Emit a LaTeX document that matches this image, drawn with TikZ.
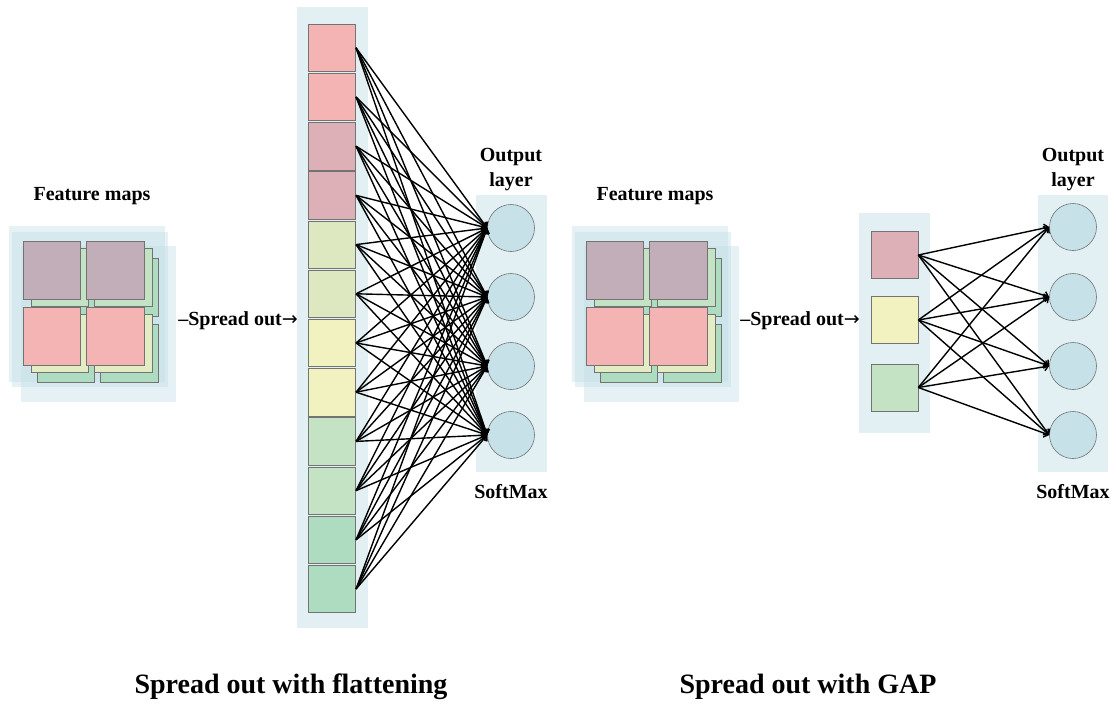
\documentclass[tikz,border=0pt]{standalone}
\usepackage{fontspec}
\setmainfont{Liberation Serif}
\newfontfamily\arrowfont{DejaVu Sans}
\usetikzlibrary{arrows.meta}
\definecolor{colbg}{HTML}{E3F0F3}
\definecolor{fmbg}{HTML}{BFDDE6}
\definecolor{cpink}{HTML}{F4B4B4}
\definecolor{cmauve}{HTML}{DDB0B8}
\definecolor{cgray}{HTML}{C1AEB8}
\definecolor{clime}{HTML}{DDE8C0}
\definecolor{cyel}{HTML}{F2F2C0}
\definecolor{clgreen}{HTML}{C4E2C4}
\definecolor{cgreen}{HTML}{ADDCC0}
\definecolor{cymid}{HTML}{E3ECC2}
\definecolor{ccirc}{HTML}{C6E2E8}
\tikzset{
  sq/.style={draw=black!55, line width=0.6pt, inner sep=0pt, minimum width=#1, minimum height=#1},
  sq/.default=48pt,
  neuron/.style={circle, draw=black!55, line width=0.6pt, fill=ccirc, minimum size=47pt, inner sep=0pt},
  edge/.style={line width=1.4pt, -{Straight Barb[length=4pt,width=8pt]}},
  lbl/.style={font=\bfseries\fontsize{20}{25}\selectfont, align=center, inner sep=0pt},
  title/.style={font=\bfseries\fontsize{28}{32}\selectfont, inner sep=0pt},
  fmback/.style={fill=fmbg, fill opacity=0.4, draw=none}
}
\begin{document}
\begin{tikzpicture}[x=1pt, y=-1pt]
\useasboundingbox (0,0) rectangle (1116,704);
% ---------- feature map blocks ----------
\foreach \s/\n in {0/L, 563/R}{
  \begin{scope}[xshift=\s pt]
  \fill[fmback] (9,226) rectangle (165,382);
  \fill[fmback] (12,232) rectangle (168,387);
  \fill[fmback] (21,246) rectangle (176,402);
  % layer 3
  \foreach \x/\y/\k in {52/270.5/a, 115.5/270.5/b, 52/336.5/c, 115.5/336.5/d}
    \node[sq=57.5pt, fill=cgreen] (fm\n3\k) at (\x+14,\y+17) {};
  % layer 2
  \foreach \x/\y/\k/\c in {52/270.5/a/clgreen, 115.5/270.5/b/clgreen, 52/336.5/c/cymid, 115.5/336.5/d/cymid}
    \node[sq=57.5pt, fill=\c] (fm\n2\k) at (\x+8,\y+7) {};
  % front
  \foreach \x/\y/\k/\c in {52/270.5/a/cgray, 115.5/270.5/b/cgray, 52/336.5/c/cpink, 115.5/336.5/d/cpink}
    \node[sq=57.5pt, fill=\c] (fm\n1\k) at (\x,\y) {};
  \end{scope}
}
\node[lbl] (fmtL) at (92,196) {Feature maps};
\node[lbl] (fmtR) at (655,196) {Feature maps};
\node[lbl] (spL) at (238,321) {–Spread out{\arrowfont\fontsize{19}{22}\selectfont\mdseries →}};
\node[lbl] (spR) at (800,321) {–Spread out{\arrowfont\fontsize{19}{22}\selectfont\mdseries →}};
% ---------- flatten column ----------
\fill[colbg] (297,7) rectangle (368,628);
\foreach \i/\c in {1/cpink,2/cpink,3/cmauve,4/cmauve,5/clime,6/clime,7/cyel,8/cyel,9/clgreen,10/clgreen,11/cgreen,12/cgreen}
  \node[sq=47.5pt, fill=\c] (c\i) at (332,{47.8+(\i-1)*49.2}) {};
% ---------- output layer 1 ----------
\fill[colbg] (476,195) rectangle (547,472);
\foreach \j/\y in {1/228,2/297,3/366,4/435}
  \node[neuron] (o\j) at (511,\y) {};
\node[lbl] (outL) at (511,170) {Output\\layer};
\node[lbl] (smL) at (511,492) {SoftMax};
\foreach \i in {1,...,12}
  \foreach \j in {1,...,4}
    \draw[edge] (c\i.east) -- (o\j.west);
% ---------- GAP column ----------
\fill[colbg] (859,213) rectangle (930,433);
\foreach \i/\c/\y in {1/cmauve/255, 2/cyel/320, 3/clgreen/387.5}
  \node[sq=47pt, fill=\c] (g\i) at (894.5,\y) {};
% ---------- output layer 2 ----------
\fill[colbg] (1038,195) rectangle (1108,472);
\foreach \j/\y in {1/227,2/297,3/366,4/435}
  \node[neuron] (p\j) at (1073,\y) {};
\node[lbl] (outR) at (1073,170) {Output\\layer};
\node[lbl] (smR) at (1073,492) {SoftMax};
\foreach \i in {1,2,3}
  \foreach \j in {1,...,4}
    \draw[edge] (g\i.east) -- (p\j.west);
% ---------- titles ----------
\node[title] (t1) at (291,687) {Spread out with flattening};
\node[title] (t2) at (808,687) {Spread out with GAP};
\end{tikzpicture}
\end{document}
